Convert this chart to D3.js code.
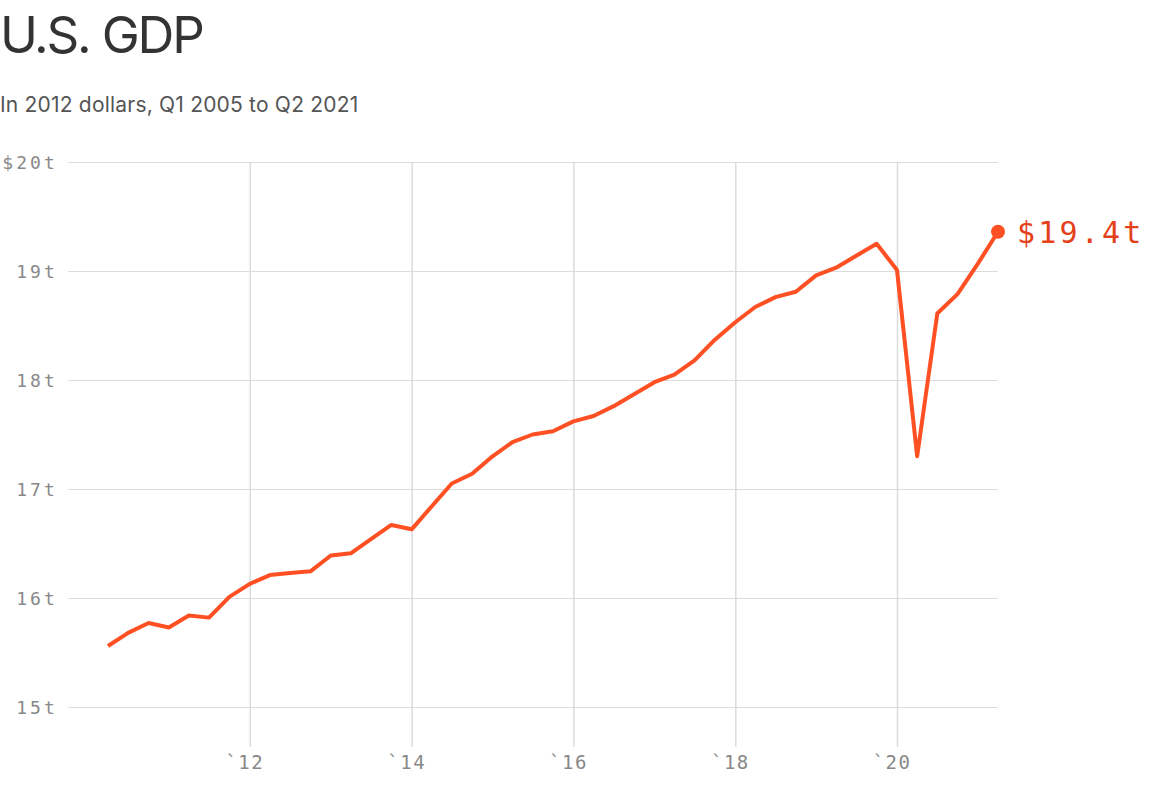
<!DOCTYPE html>
<html>
<head>
<meta charset="utf-8">
<script src="https://cdn.jsdelivr.net/npm/d3@7"></script>
<style>
    body { margin: 0; background: #fff; }
</style>
</head>
<body>
<script>
// chart data (trillions of 2012 dollars)
const quarters = ["2010-04", "2010-07", "2010-10",
    "2011-01", "2011-04", "2011-07", "2011-10",
    "2012-01", "2012-04", "2012-07", "2012-10",
    "2013-01", "2013-04", "2013-07", "2013-10",
    "2014-01", "2014-04", "2014-07", "2014-10",
    "2015-01", "2015-04", "2015-07", "2015-10",
    "2016-01", "2016-04", "2016-07", "2016-10",
    "2017-01", "2017-04", "2017-07", "2017-10",
    "2018-01", "2018-04", "2018-07", "2018-10",
    "2019-01", "2019-04", "2019-07", "2019-10",
    "2020-01", "2020-04", "2020-07", "2020-10",
    "2021-01", "2021-04"];
const gdp = [15.56, 15.68, 15.77,
    15.73, 15.84, 15.82, 16.01,
    16.13, 16.21, 16.23, 16.245,
    16.39, 16.41, 16.54, 16.67,
    16.63, 16.84, 17.05, 17.14,
    17.30, 17.43, 17.50, 17.53,
    17.62, 17.67, 17.76, 17.87,
    17.98, 18.05, 18.18, 18.37,
    18.53, 18.67, 18.76, 18.81,
    18.96, 19.03, 19.14, 19.25,
    19.01, 17.30, 18.61, 18.79,
    19.07, 19.36];
const yTicks = [15, 16, 17, 18, 19, 20];
const xTickYears = [2012, 2014, 2016, 2018, 2020];
const endLabel = "$19.4t";

const canvWidth = 1154, canvHeight = 788;
const lineColor = "#ff5024";
const monoFont = "'DejaVu Sans Mono', monospace";

const svg = d3.select("body").append("svg")
    .attr("width", canvWidth)
    .attr("height", canvHeight);

const parseQ = d3.utcParse("%Y-%m");
const data = quarters.map((q, i) => ({date: parseQ(q), value: gdp[i]}));

// title + subtitle
svg.append("text")
    .attr("x", 0)
    .attr("y", 53)
    .attr("font-family", "Inter, sans-serif")
    .attr("font-size", "51px")
    .attr("letter-spacing", "-2.2px")
    .attr("fill", "#333")
    .text("U.S. GDP");

svg.append("text")
    .attr("x", 0)
    .attr("y", 112)
    .attr("font-family", "Inter, sans-serif")
    .attr("font-size", "21px")
    .attr("letter-spacing", "0.2px")
    .attr("fill", "#555")
    .text("In 2012 dollars, Q1 2005 to Q2 2021");

// scales
const xScale = d3.scaleUtc()
    .domain(d3.extent(data, d => d.date))
    .range([108, 998]);

const yScale = d3.scaleLinear()
    .domain([15, 20])
    .range([707, 162]);

const gridLeft = 68, gridRight = 998, gridBottom = 747;

// horizontal grid + y labels
const yAxis = d3.axisLeft(yScale)
    .tickValues(yTicks)
    .tickSize(-(gridRight - gridLeft))
    .tickPadding(10)
    .tickFormat(d => d === 20 ? "$" + d + "t" : d + "t");

const yG = svg.append("g")
    .attr("transform", "translate(" + gridLeft + ",0)")
    .call(yAxis);
yG.select(".domain").remove();
yG.selectAll(".tick line")
    .attr("stroke", "#dcdcdc")
    .attr("stroke-width", 1);
yG.selectAll(".tick text")
    .attr("font-family", monoFont)
    .attr("font-size", "18px")
    .attr("letter-spacing", "3.1px")
    .attr("fill", "#888")
    .attr("dy", "0.36em");

// vertical grid + x labels
const xTicks = xTickYears.map(y => new Date(Date.UTC(y, 0, 1)));
const xAxis = d3.axisBottom(xScale)
    .tickValues(xTicks)
    .tickSize(-(gridBottom - 162))
    .tickPadding(0)
    .tickFormat(d => "`" + String(d.getUTCFullYear()).slice(2));

const xG = svg.append("g")
    .attr("transform", "translate(0," + gridBottom + ")")
    .call(xAxis);
xG.select(".domain").remove();
xG.selectAll(".tick line")
    .attr("stroke", "#dcdcdc")
    .attr("stroke-width", 1.5);
xG.selectAll(".tick text")
    .attr("font-family", monoFont)
    .attr("font-size", "19px")
    .attr("letter-spacing", "1.5px")
    .attr("fill", "#888")
    .attr("text-anchor", "end")
    .attr("x", 14)
    .attr("y", 22)
    .attr("dy", 0);

// the line
const line = d3.line()
    .x(d => xScale(d.date))
    .y(d => yScale(d.value));

svg.append("path")
    .datum(data)
    .attr("fill", "none")
    .attr("stroke", lineColor)
    .attr("stroke-width", 4)
    .attr("stroke-linejoin", "round")
    .attr("d", line);

// end point + label
const last = data[data.length - 1];
svg.append("circle")
    .attr("cx", xScale(last.date))
    .attr("cy", yScale(last.value))
    .attr("r", 7)
    .attr("fill", lineColor);

svg.append("text")
    .attr("x", xScale(last.date) + 19)
    .attr("y", yScale(last.value))
    .attr("dy", "0.36em")
    .attr("font-family", monoFont)
    .attr("font-size", "30px")
    .attr("letter-spacing", "3.2px")
    .attr("fill", "#e4401a")
    .text(endLabel);
</script>
</body>
</html>
